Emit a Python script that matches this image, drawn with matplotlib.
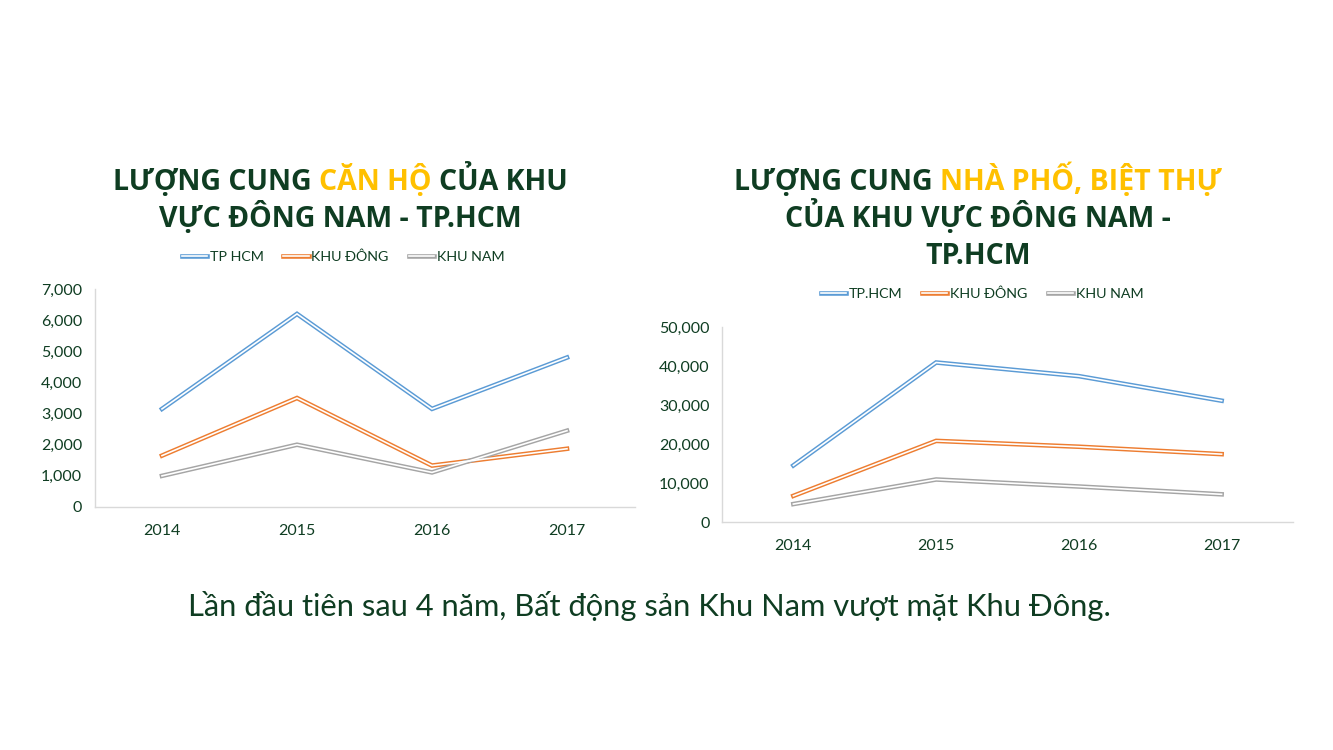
import matplotlib
matplotlib.use("Agg")
import matplotlib.pyplot as plt
from matplotlib.lines import Line2D
from matplotlib.legend_handler import HandlerTuple
from matplotlib.ticker import FuncFormatter, MultipleLocator

# ---------------- data ----------------
years = ["2014", "2015", "2016", "2017"]

can_ho_tphcm = [3150, 6200, 3150, 4800]
can_ho_khu_dong = [1650, 3500, 1330, 1870]
can_ho_khu_nam = [1000, 2000, 1110, 2450]

nha_pho_tphcm = [14500, 40900, 37400, 31100]
nha_pho_khu_dong = [6700, 20800, 19300, 17400]
nha_pho_khu_nam = [4600, 10900, 9100, 7100]

left_labels = ["TP HCM", "KHU ĐÔNG", "KHU NAM"]
right_labels = ["TP.HCM", "KHU ĐÔNG", "KHU NAM"]

left_title = [[("LƯỢNG CUNG ", "dark"), ("CĂN HỘ", "gold"), (" CỦA KHU", "dark")],
              [("VỰC ĐÔNG NAM - TP.HCM", "dark")]]
right_title = [[("LƯỢNG CUNG ", "dark"), ("NHÀ PHỐ, BIỆT THỰ", "gold")],
               [("CỦA KHU VỰC ĐÔNG NAM -", "dark")],
               [("TP.HCM", "dark")]]
caption = "Lần đầu tiên sau 4 năm, Bất động sản Khu Nam vượt mặt Khu Đông."

# ---------------- style ----------------
DARK = "#0F3D22"
GOLD = "#FFC000"
COLORS = ["#5B9BD5", "#ED7D31", "#A5A5A5"]
SPINE = "#D9D9D9"
FONT = "Open Sans"
LBL_FONT = "Lato"
OUT_LW, IN_LW = 3.3, 1.2

W, H = 1333, 750
fig = plt.figure(figsize=(W / 100, H / 100), dpi=100)
fig.patch.set_facecolor("white")


def px_ax(x0, y0, x1, y1):
    return fig.add_axes([x0 / W, 1 - y1 / H, (x1 - x0) / W, (y1 - y0) / H])


def double_line(ax, xs, ys, color):
    ax.plot(xs, ys, color=color, lw=OUT_LW, solid_joinstyle="miter", zorder=3)
    ax.plot(xs, ys, color="white", lw=IN_LW, solid_joinstyle="miter", zorder=4)


def style_axes(ax, ymax, step):
    ax.set_xlim(-0.5, 3.5)
    ax.set_ylim(0, ymax)
    ax.yaxis.set_major_locator(MultipleLocator(step))
    ax.yaxis.set_major_formatter(FuncFormatter(lambda v, p: f"{v:,.0f}"))
    ax.set_xticks(range(len(years)))
    ax.set_xticklabels(years)
    for s in ["top", "right"]:
        ax.spines[s].set_visible(False)
    for s in ["left", "bottom"]:
        ax.spines[s].set_color(SPINE)
        ax.spines[s].set_linewidth(1.0)
    ax.tick_params(axis="both", length=0, labelcolor=DARK, labelsize=11.5)
    ax.tick_params(axis="y", pad=9)
    ax.tick_params(axis="x", pad=12)
    for lab in ax.get_xticklabels() + ax.get_yticklabels():
        lab.set_fontfamily(LBL_FONT)


def make_legend(ax, labels, anchor_x, anchor_y):
    handles = [(Line2D([], [], color=c, lw=OUT_LW), Line2D([], [], color="white", lw=IN_LW))
               for c in COLORS]
    leg = ax.legend(handles, labels, handler_map={tuple: HandlerTuple(ndivide=1)},
                    loc="center", bbox_to_anchor=(anchor_x, anchor_y), ncol=3,
                    frameon=False, handlelength=1.75,
                    handletextpad=0.2, columnspacing=1.4,
                    prop={"family": LBL_FONT, "size": 10.3})
    for t in leg.get_texts():
        t.set_color(DARK)


# left chart
axL = px_ax(94.5, 289, 634.5, 507)
x = range(len(years))
for ys, c in zip([can_ho_tphcm, can_ho_khu_dong, can_ho_khu_nam], COLORS):
    double_line(axL, x, ys, c)
style_axes(axL, 7000, 1000)
make_legend(axL, left_labels, (343 - 94.5) / 540, 1 + (289 - 257) / 218)

# right chart
axR = px_ax(722, 327, 1293, 522)
for ys, c in zip([nha_pho_tphcm, nha_pho_khu_dong, nha_pho_khu_nam], COLORS):
    double_line(axR, x, ys, c)
style_axes(axR, 50000, 10000)
make_legend(axR, right_labels, (982 - 722) / 571, 1 + (327 - 294) / 195)

# ---------------- titles ----------------
renderer = fig.canvas.get_renderer()


def text_w(s, size, weight):
    t = fig.text(0, 0, s + "|", fontsize=size, fontweight=weight, family=FONT)
    t2 = fig.text(0, 0, "|", fontsize=size, fontweight=weight, family=FONT)
    w = t.get_window_extent(renderer).width - t2.get_window_extent(renderer).width
    t.remove()
    t2.remove()
    return w


def mixed_line(parts, cx, base_y, size, weight="bold"):
    full = "".join(p for p, _ in parts)
    tot = text_w(full, size, weight)
    x0 = cx - tot / 2
    prefix = ""
    for s, col in parts:
        lead = len(s) - len(s.lstrip(" "))
        pre = prefix + s[:lead]
        xs = x0 + (text_w(pre, size, weight) if pre else 0)
        fig.text(xs / W, 1 - base_y / H, s.strip(" "), fontsize=size,
                 fontweight=weight, family=FONT,
                 color=DARK if col == "dark" else GOLD,
                 ha="left", va="baseline")
        prefix += s


TS = 20.5
for i, ln in enumerate(left_title):
    mixed_line(ln, 340, 190 + 37 * i, TS)
for i, ln in enumerate(right_title):
    mixed_line(ln, 978, 190 + 37 * i, TS)

fig.text(649 / W, 1 - 616 / H, caption, fontsize=22.2, family=LBL_FONT,
         color=DARK, ha="center", va="baseline")

fig.savefig("out.png", dpi=100, facecolor="white")
